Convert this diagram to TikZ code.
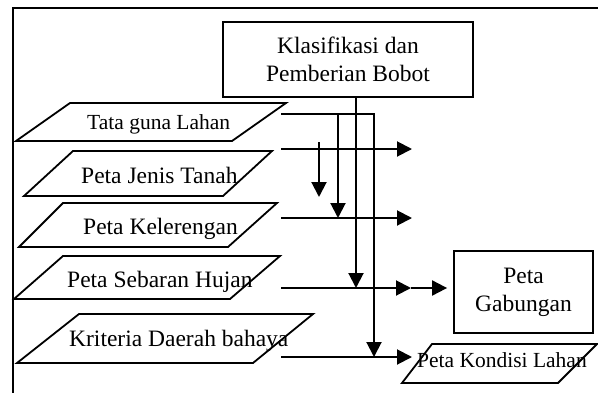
\documentclass[tikz,border=0pt]{standalone}
\usepackage{fontspec}
\setmainfont{Liberation Serif}
\usetikzlibrary{arrows.meta}
\tikzset{
  ln/.style={line width=2pt},
  arr/.style={ln,-{Triangle[length=15pt,width=15pt]}},
  para/.style={draw,line width=1.8pt,line join=miter},
  txt/.style={inner sep=0pt,anchor=base west,font=\fontsize{23.5}{28}\selectfont},
  txts/.style={inner sep=0pt,anchor=base west,font=\fontsize{21.5}{26}\selectfont},
  boxn/.style={draw,line width=1.8pt,align=center,inner sep=0pt,font=\fontsize{23.5}{28}\selectfont}
}
\begin{document}
\begin{tikzpicture}[x=1pt,y=-1pt]
\useasboundingbox (0,0) rectangle (598,392);
\fill[white] (0,0) rectangle (598,392);
\clip (0,0) rectangle (598,392);
% outer frame (only left and top edges visible)
\draw[ln] (13,8) rectangle (650,440);

% top box
\node[boxn, minimum width=250pt, minimum height=75pt] (K) at (348,59.5) {Klasifikasi dan\\Pemberian Bobot};
% result box
\node[boxn, minimum width=139pt, minimum height=82pt] (G) at (523.5,292) {Peta\\Gabungan};

% input parallelograms
\draw[para] (70,103) -- (286,103) -- (232,141) -- (16,141) -- cycle;
\draw[para] (73,151) -- (272,151) -- (223,196) -- (24,196) -- cycle;
\draw[para] (63,203) -- (277,203) -- (228,247) -- (19,247) -- cycle;
\draw[para] (63,256) -- (280,256) -- (230,299) -- (14,299) -- cycle;
\draw[para] (79,314) -- (313,314) -- (253,363) -- (17,363) -- cycle;
\draw[para] (432,344) -- (597,344) -- (558,383) -- (402,383) -- cycle;

\node[txts] (p1) at (87,129) {Tata guna Lahan};
\node[txt] (p2) at (81,183) {Peta Jenis Tanah};
\node[txt] (p3) at (83,234) {Peta Kelerengan};
\node[txt] (p4) at (67,287) {Peta Sebaran Hujan};
\node[txt] (p5) at (69,346) {Kriteria Daerah bahaya};
\node[txts] (p6) at (417,367) {Peta Kondisi Lahan};

% connector end points
\coordinate (s1) at (281,114);
\coordinate (s2) at (281,149);
\coordinate (s3) at (281,218);
\coordinate (s4) at (281,288);
\coordinate (s5) at (281,357);
\coordinate (e2) at (412,149);
\coordinate (e3) at (412,218);
\coordinate (e4) at (411,288);
\coordinate (e5) at (412,357);
\coordinate (t5) at (374,357);
\coordinate (b1) at (338,114);
\coordinate (b3) at (338,218);
\coordinate (d0) at (319,142);
\coordinate (d1) at (319,197);
\coordinate (k4) at (356,288);

% connectors
\draw[arr] (s1) -| (t5);
\draw[arr] (s2) -- (e2);
\draw[arr] (d0) -- (d1);
\draw[arr] (b1) -- (b3);
\draw[arr] (s3) -- (e3);
\draw[arr] (K.south -| k4) -- (k4);
\draw[arr] (s4) -- (e4);
\draw[arr, shorten >=6pt] (e4) -- (e4 -| G.west);
\draw[arr] (s5) -- (e5);
\end{tikzpicture}
\end{document}
